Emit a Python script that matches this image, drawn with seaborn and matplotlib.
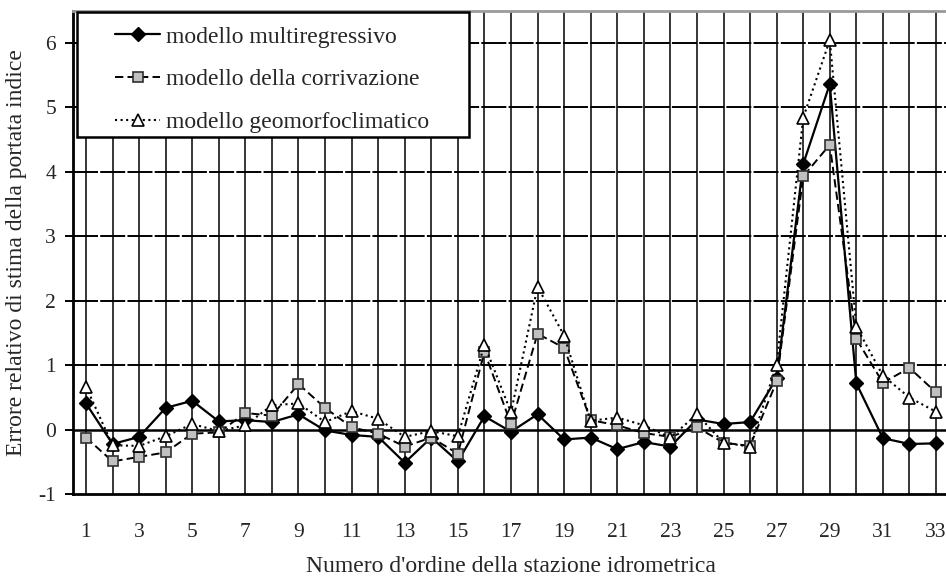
import matplotlib
matplotlib.use("Agg")
import matplotlib.pyplot as plt
import seaborn as sns
import numpy as np
from matplotlib.lines import Line2D
from matplotlib.patches import Rectangle

stations = list(range(1, 34))
multi = [0.41, -0.22, -0.11, 0.34, 0.45, 0.13, 0.15, 0.12, 0.24, -0.01, -0.08,
         -0.11, -0.51, -0.12, -0.49, 0.21, -0.03, 0.24, -0.15, -0.12, -0.30,
         -0.19, -0.26, 0.16, 0.09, 0.12, 0.80, 4.12, 5.36, 0.72, -0.13, -0.22, -0.21]
corr = [-0.12, -0.49, -0.42, -0.35, -0.06, -0.04, 0.26, 0.22, 0.71, 0.34, 0.04,
        -0.06, -0.26, -0.12, -0.37, 1.21, 0.09, 1.49, 1.27, 0.15, 0.07,
        -0.05, -0.11, 0.04, -0.20, -0.25, 0.75, 3.93, 4.42, 1.41, 0.73, 0.96, 0.58]
geo = [0.67, -0.24, -0.25, -0.10, 0.09, -0.02, 0.07, 0.38, 0.41, 0.12, 0.29,
       0.17, -0.11, -0.02, -0.10, 1.32, 0.27, 2.22, 1.46, 0.14, 0.19,
       0.07, -0.12, 0.24, -0.20, -0.26, 1.01, 4.84, 6.04, 1.60, 0.84, 0.50, 0.28]
labels = ["modello multiregressivo", "modello della corrivazione", "modello geomorfoclimatico"]
yticks = [-1, 0, 1, 2, 3, 4, 5, 6]
xlabel = "Numero d'ordine della stazione idrometrica"
ylabel = "Errore relativo di stima della portata indice"

sns.set_style("white")
plt.rcParams['font.family'] = ['Liberation Serif', 'DejaVu Serif']
plt.rcParams['lines.scale_dashes'] = False
FS_TICK = 15.5
FS_TEXT = 17

W, H = 946, 578
fig = plt.figure(figsize=(W / 100, H / 100), dpi=100)
left_px, right_px, top_px, bot_px = 72.7, 949.3, 10.6, 494.3
ax = fig.add_axes([left_px / W, 1 - bot_px / H, (right_px - left_px) / W, (bot_px - top_px) / H])
ax.set_xlim(0.5, 33.5)
ax.set_ylim(-1, 6.5)

# grid
for s in stations:
    ax.axvline(s, color='black', lw=1.1, zorder=1)
for yv in [1, 2, 3, 4, 5, 6]:
    ax.axhline(yv, color='black', lw=1.4, dashes=(18, 1.6), zorder=1)
ax.axhline(0, color='black', lw=1.8, zorder=1)

styles = [
    dict(linestyle='-', lw=1.6, marker='D', markersize=7, mfc='black', mec='black', mew=1.0),
    dict(linestyle=(0, (6, 3)), lw=1.4, marker='s', markersize=7.5, mfc='#c0c0c0', mec='#303030', mew=1.2),
    dict(linestyle=(0, (1.5, 2.5)), lw=1.5, marker='^', markersize=8, mfc='white', mec='black', mew=1.2),
]
series = [multi, corr, geo]
for i, (vals, st) in enumerate(zip(series, styles)):
    sns.lineplot(x=stations, y=vals, ax=ax, color='black', zorder=3 + i,
                 linestyle=st['linestyle'], linewidth=st['lw'], marker=st['marker'],
                 markersize=st['markersize'], markerfacecolor=st['mfc'],
                 markeredgecolor=st['mec'], markeredgewidth=st['mew'], legend=False)

ax.set_xticks(stations)
ax.set_xticklabels([str(s) if s % 2 == 1 else '' for s in stations])
ax.set_yticks(yticks)
ax.set_yticklabels([str(v) for v in yticks])
ax.tick_params(axis='x', length=0, pad=21, labelsize=FS_TICK)
ax.tick_params(axis='y', length=6, width=1.4, pad=6, labelsize=FS_TICK, left=True, direction='out', color='black')

ax.spines['right'].set_visible(False)
ax.spines['left'].set_color('black')
ax.spines['left'].set_linewidth(2.0)
ax.spines['bottom'].set_color('black')
ax.spines['bottom'].set_linewidth(2.0)
ax.spines['top'].set_color('#9a9a9a')
ax.spines['top'].set_linewidth(2.0)

ax.set_xlabel(xlabel, fontsize=FS_TEXT, labelpad=10)
ax.set_ylabel(ylabel, fontsize=FS_TEXT, labelpad=8)

# legend (frame drawn manually)
lx0, ly0, lx1, ly1 = 77, 12.5, 469, 137
fig.patches.append(Rectangle((lx0 / W, 1 - ly1 / H), (lx1 - lx0) / W, (ly1 - ly0) / H,
                             transform=fig.transFigure, facecolor='white', edgecolor='black',
                             lw=1.8, zorder=10))
handles = [Line2D([], [], color='black', linestyle=st['linestyle'], lw=st['lw'], marker=st['marker'],
                  markersize=st['markersize'], markerfacecolor=st['mfc'],
                  markeredgecolor=st['mec'], markeredgewidth=st['mew']) for st in styles]
leg = fig.legend(handles, labels, loc='upper left', bbox_to_anchor=(108 / W, 1 - 19 / H),
                 bbox_transform=fig.transFigure, frameon=False, fontsize=FS_TEXT,
                 handlelength=1.9, handletextpad=0.25, labelspacing=0.9, borderpad=0.3,
                 borderaxespad=0, markerscale=1.0)
leg.set_zorder(11)

fig.savefig("out.png", dpi=100)
